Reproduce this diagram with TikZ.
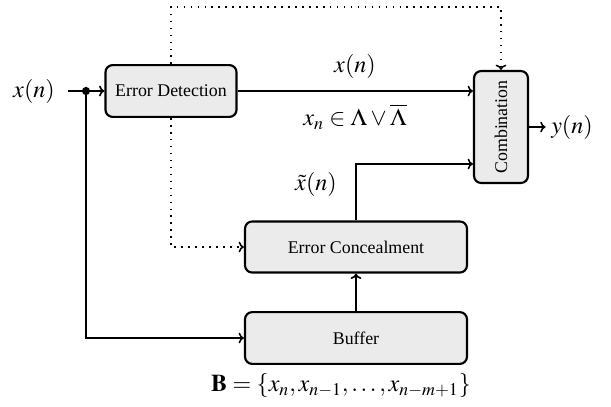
\documentclass[tikz,border=0pt]{standalone}
\usepackage{mathptmx}
\usepackage{fontspec}
\setmainfont{Liberation Serif}
\usetikzlibrary{arrows.meta,calc}
\tikzset{
  box/.style={draw, line width=1.2pt, rounded corners=4pt, fill=black!8, inner sep=0pt},
  conn/.style={line width=0.9pt},
  arr/.style={conn, -{To[length=3pt,width=6pt]}},
  dotline/.style={line width=0.9pt, dash pattern=on 0.9pt off 3pt},
  lab/.style={font=\fontsize{13.5}{16}\selectfont, inner sep=1pt}
}
\begin{document}
\begin{tikzpicture}[x=0.56pt,y=-0.56pt]
\useasboundingbox (0,0) rectangle (611,406);
% boxes
\node[box, minimum width=73.4pt, minimum height=29pt] (ed) at (171,91) {Error Detection};
\node[box, minimum width=30.2pt, minimum height=62.7pt] (comb) at (501,127) {};
\node[rotate=90, inner sep=0pt] (combtext) at (comb) {Combination};
\node[box, minimum width=124.3pt, minimum height=28.6pt] (ec) at (356,247) {Error Concealment};
\node[box, minimum width=124.3pt, minimum height=29pt] (buf) at (356,338) {Buffer};
% labels
\node[lab] (xin) at (34,91) {$x(n)$};
\node[lab] (xtop) at (355,66) {$x(n)$};
\node[lab] (cond) at (355,117) {$x_n \in \Lambda \vee \overline{\Lambda}$};
\node[lab] (xt) at (316,184) {$\tilde{x}(n)$};
\node[lab] (yout) at (572,127) {$y(n)$};
\node[lab] (bset) at (341,386) {$\mathbf{B}=\{x_n, x_{n-1}, \ldots, x_{n-m+1}\}$};
% coordinates
\coordinate (s) at (68,91);
\coordinate (split) at (86,91);
\coordinate (top) at (0,7);
% connectors
\draw[arr] (s) -- (ed.west);
\fill (split) circle (2.3pt);
\draw[arr] (split) |- (buf.west);
\draw[arr] (ed.east) -- (ed.east -| comb.west);
\draw[arr] (buf.north) -- (ec.south);
\draw[arr] (ec.north) |- ([yshift=-20.7pt]comb.west);
\draw[arr] (comb.east) -- ([xshift=-2pt]yout.west);
\draw[dotline, -{To[length=3pt,width=6pt]}] (ed.north) -- (ed.north |- top) -| (comb.north);
\draw[dotline, -{To[length=3pt,width=6pt]}] (ed.south) |- (ec.west);
\end{tikzpicture}
\end{document}
